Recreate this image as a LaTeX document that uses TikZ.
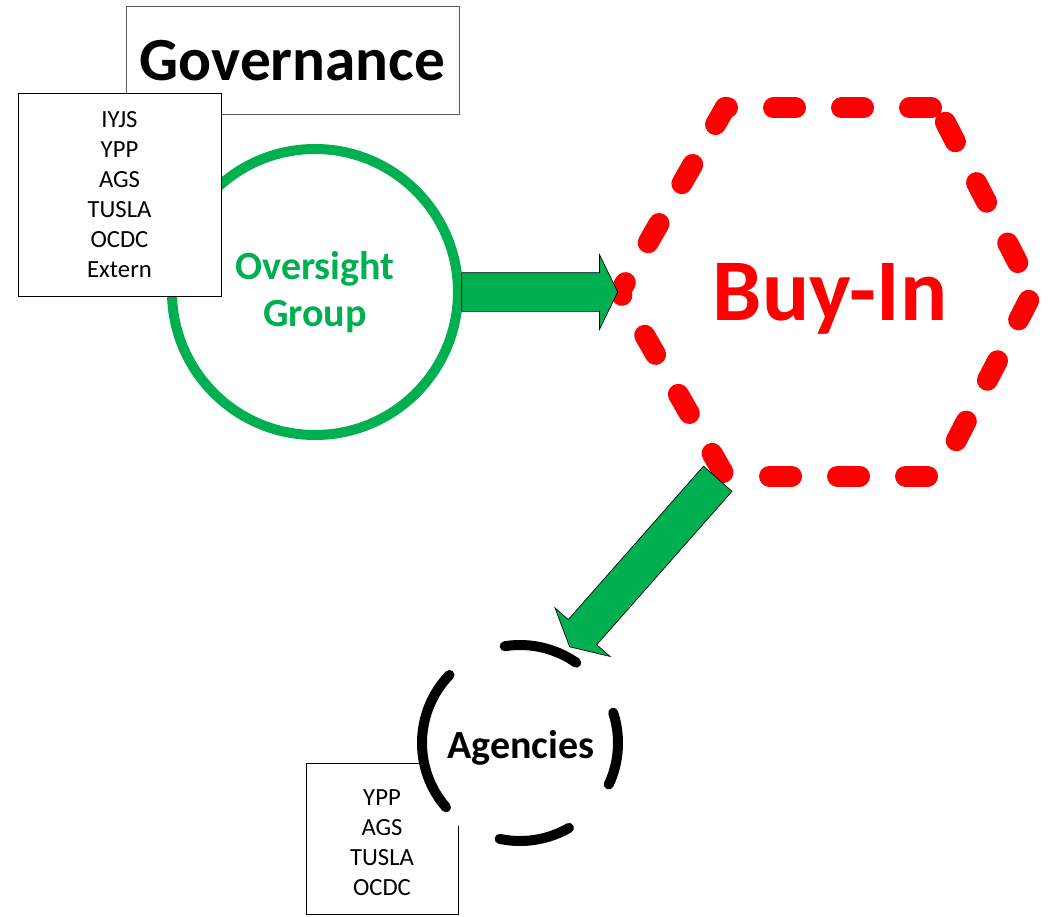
\documentclass[tikz,border=0pt]{standalone}
\usepackage{fontspec}
\setmainfont{Carlito}
\usetikzlibrary{shapes.arrows}

\definecolor{ogreen}{HTML}{00B050}
\definecolor{bred}{HTML}{FF0000}

\tikzset{
  listbox/.style={draw=black, line width=0.75pt, fill=white, inner sep=0pt},
  listtext/.style={align=center, font=\fontsize{18.5}{22.5}\selectfont},
  blockarrow/.style={single arrow, draw=black, line width=0.5pt, fill=ogreen, inner xsep=0pt},
  hexdash/.style={bred, line width=15.75pt, line cap=round, dash pattern=on 16.5pt off 34.5pt},
  agencyarc/.style={line width=7.5pt, line cap=round}
}

\begin{document}
\begin{tikzpicture}[x=0.75pt, y=-0.75pt]
% Canvas
\useasboundingbox (0,0) rectangle (1058,917);

% Governance heading
\node[draw=black!65, line width=0.75pt, minimum width=249.75pt, minimum height=81pt,
  font=\fontsize{46}{50}\selectfont\bfseries] (gov) at (292.5,61) {Governance};

% Oversight group
\node[circle, draw=ogreen, line width=7.5pt, minimum size=214.5pt, align=center,
  text=ogreen, font=\fontsize{30}{35}\selectfont\bfseries] (oversight) at (315,292) {Oversight\\Group};

% Members of the group
\node[listbox, minimum width=152.25pt, minimum height=151.5pt] (roster) at (119.5,195) {};
\node[listtext, anchor=base] (rosternames) at (119.5,277) {IYJS\\YPP\\AGS\\TUSLA\\OCDC\\Extern};

% Buy-in hexagon, one dashed side at a time
\coordinate (h1) at (725,108);
\coordinate (h2) at (938,108);
\coordinate (h3) at (1033,292);
\coordinate (h4) at (938,476);
\coordinate (h5) at (725,476);
\coordinate (h6) at (620,292);
\foreach \p/\q/\ph in {h1/h2/14.6, h2/h3/39, h3/h4/44, h5/h4/17.6, h5/h6/48, h6/h1/8.4}
  \draw[hexdash, dash phase=\ph pt] (\p) -- (\q);
\node[anchor=base, text=bred, font=\fontsize{66}{70}\selectfont\bfseries] (buyin) at (830,320) {Buy-In};

% Block arrows
\node[blockarrow, single arrow head extend=13.5pt, single arrow tip angle=128,
  inner ysep=14.25pt, minimum height=117pt] (feed) at (535,292) {};
\node[blockarrow, rotate=228.6, single arrow head extend=13.3pt, single arrow tip angle=124,
  inner ysep=14pt, minimum height=168pt] (rollout) at (647,559) {};

% Agencies
\node[listbox, minimum width=114pt, minimum height=113.25pt] (agencylist) at (382,838.5) {};
\node[listtext, anchor=base] (agencynames) at (382,895) {YPP\\AGS\\TUSLA\\OCDC};
\node[circle, fill=white, minimum size=154.5pt] (agencies) at (520,743) {};
\begin{scope}[shift={(agencies.center)}, y=0.75pt]
\foreach \a/\b in {55/99, 136/221, 258/300, -25/18}
  \draw[agencyarc] (\a:98) arc[start angle=\a, end angle=\b, radius=98];
\end{scope}
\node[anchor=base, font=\fontsize{30}{36}\selectfont\bfseries] (agencytext) at (521,758) {Agencies};
\end{tikzpicture}
\end{document}
